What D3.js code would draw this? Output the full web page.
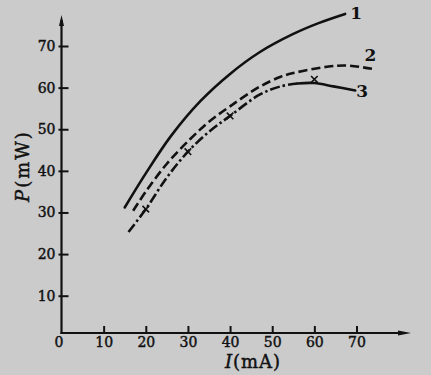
<!DOCTYPE html>
<html>
<head>
<meta charset="utf-8">
<script src="https://cdn.jsdelivr.net/npm/d3@7"></script>
<style>
  html, body { margin: 0; padding: 0; background: #cacaca; }
  svg { display: block; }
</style>
</head>
<body>
<svg id="chart" width="431" height="375"></svg>
<script>
// ---- data ----
const xTicks = [0, 10, 20, 30, 40, 50, 60, 70];
const yTicks = [10, 20, 30, 40, 50, 60, 70];

const curve1I = [15, 20, 26, 33, 40, 47, 55, 61, 67.3];
const curve1P = [31.2, 39.4, 48.4, 56.8, 63.3, 68.5, 72.9, 75.5, 77.7];

const curve2I = [17, 20, 25, 30.5, 35, 40, 47, 52, 55, 63, 67.7, 74.5];
const curve2P = [30.4, 35, 41.7, 47.6, 51.8, 55.5, 60.2, 62.6, 63.5, 65, 65.3, 64.4];

const curve3I = [15.9, 20, 25, 30, 35, 40, 47, 52, 56, 60, 64.5, 69.7];
const curve3P = [25.3, 30.8, 38.4, 44.6, 49.4, 53.2, 58.3, 60.3, 61, 61.1, 60.3, 59.3];
const curve3SolidFrom = 56;

const markI = [20, 30, 40, 60];
const markP = [30.8, 44.6, 53.2, 62];

const curveLabels = ["1", "2", "3"];

// ---- layout ----
const svg = d3.select("#chart");
const ink = "#111";
const font = "'DejaVu Serif', 'Liberation Serif', serif";
const axisX0 = 61.5, axisY0 = 333;

const x = d3.scaleLinear().domain([0, 70]).range([61.5, 356.5]);
const y = d3.scaleLinear().domain([10, 70]).range([295.7, 46]);

// background
svg.append("rect").attr("width", 431).attr("height", 375).attr("fill", "#cbcbcb");

function heavy(sel, size) {
  sel.attr("fill", ink).attr("stroke", ink).attr("stroke-width", 0.45)
    .style("font-family", font).style("font-size", size + "px");
}

// axes
const yAxis = d3.axisLeft(y).tickValues(yTicks).tickSizeInner(-7).tickSizeOuter(0).tickPadding(6);
const gy = svg.append("g").attr("transform", `translate(${axisX0},0)`).call(yAxis);
gy.select(".domain").remove();
gy.selectAll(".tick line").attr("x1", -3).attr("stroke", ink).attr("stroke-width", 2);
heavy(gy.selectAll(".tick text"), 14);

const xAxis = d3.axisBottom(x).tickValues(xTicks).tickSizeInner(-7).tickSizeOuter(0).tickPadding(4);
const gx = svg.append("g").attr("transform", `translate(0,${axisY0})`).call(xAxis);
gx.select(".domain").remove();
gx.selectAll(".tick line").attr("stroke", ink).attr("stroke-width", 2)
  .attr("display", d => d === 0 ? "none" : null);
heavy(gx.selectAll(".tick text"), 14);
gx.selectAll(".tick text").attr("x", d => d === 0 ? -3 : 0);

// axis lines with arrows
svg.append("line").attr("x1", axisX0).attr("y1", axisY0 + 1).attr("x2", axisX0).attr("y2", 20)
  .attr("stroke", ink).attr("stroke-width", 2.2);
svg.append("path").attr("d", `M${axisX0 - 2.5},26 L${axisX0},15 L${axisX0 + 2.5},26 Z`).attr("fill", ink);
svg.append("line").attr("x1", axisX0 - 1).attr("y1", axisY0).attr("x2", 405).attr("y2", axisY0)
  .attr("stroke", ink).attr("stroke-width", 2.2);
svg.append("path").attr("d", `M398,${axisY0 - 2.5} L411,${axisY0} L398,${axisY0 + 2.5} Z`).attr("fill", ink);

// axis titles
const xt = svg.append("text").attr("x", 253).attr("y", 368).attr("text-anchor", "middle")
  .style("letter-spacing", "1px");
heavy(xt, 18);
xt.append("tspan").style("font-style", "italic").text("I");
xt.append("tspan").text("(mA)");

const yt = svg.append("text").attr("transform", "translate(29,166) rotate(-90)").attr("text-anchor", "middle")
  .style("letter-spacing", "2px");
heavy(yt, 18);
yt.append("tspan").style("font-style", "italic").text("P");
yt.append("tspan").text("(mW)");

// curves
const line = d3.line().x(d => x(d[0])).y(d => y(d[1])).curve(d3.curveCatmullRom.alpha(0.5));
const c1 = curve1I.map((v, i) => [v, curve1P[i]]);
const c2 = curve2I.map((v, i) => [v, curve2P[i]]);
const c3 = curve3I.map((v, i) => [v, curve3P[i]]);

svg.append("path").attr("d", line(c1)).attr("fill", "none").attr("stroke", ink)
  .attr("stroke-width", 2.6).attr("stroke-linecap", "round");
svg.append("path").attr("d", line(c2)).attr("fill", "none").attr("stroke", ink)
  .attr("stroke-width", 2.6).attr("stroke-dasharray", "9,4");
svg.append("path").attr("d", line(c3.filter(d => d[0] <= curve3SolidFrom))).attr("fill", "none")
  .attr("stroke", ink).attr("stroke-width", 2.6).attr("stroke-dasharray", "10,3,2.5,3");
svg.append("path").attr("d", line(c3.filter(d => d[0] >= curve3SolidFrom))).attr("fill", "none")
  .attr("stroke", ink).attr("stroke-width", 2.6).attr("stroke-linecap", "round");

// markers on curve 3
const sym = d3.symbol().type(d3.symbolTimes).size(30);
svg.selectAll(".mk").data(markI.map((v, i) => [v, markP[i]])).join("path")
  .attr("class", "mk").attr("d", sym)
  .attr("transform", d => `translate(${x(d[0])},${y(d[1])})`)
  .attr("fill", "none").attr("stroke", ink).attr("stroke-width", 1.6);

// curve labels
const ends = [c1[c1.length - 1], c2[c2.length - 1], c3[c3.length - 1]];
const labelOff = [[11, 5], [-5, -8], [7, 6]];
svg.selectAll(".cl").data(curveLabels).join("text").attr("class", "cl")
  .attr("x", (d, i) => x(ends[i][0]) + labelOff[i][0])
  .attr("y", (d, i) => y(ends[i][1]) + labelOff[i][1])
  .attr("text-anchor", "middle").attr("fill", ink)
  .style("font-family", font).style("font-size", "17px").style("font-weight", "bold")
  .text(d => d);
</script>
</body>
</html>
